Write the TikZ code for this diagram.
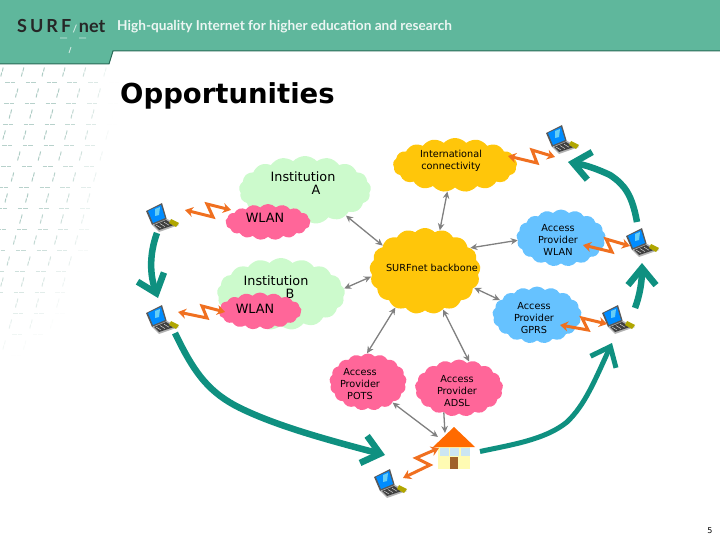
\documentclass[tikz,border=0pt]{standalone}
\usepackage{fontspec}
\setmainfont{DejaVu Sans}
\newfontfamily\headfont{Lato}
\usepackage{tikz}
\usetikzlibrary{arrows.meta,calc,shapes.symbols}
\definecolor{bandgreen}{HTML}{5FB79C}
\definecolor{banddark}{HTML}{2B6B58}
\definecolor{marksgreen}{HTML}{4A8C7C}
\definecolor{instgreen}{HTML}{CCFACC}
\definecolor{wlanpink}{HTML}{FF6699}
\definecolor{netyellow}{HTML}{FFC60A}
\definecolor{provblue}{HTML}{66C2FF}
\definecolor{boltorange}{HTML}{F07020}
\definecolor{roamteal}{HTML}{0F9080}
\definecolor{windowblue}{HTML}{CCE6F2}
\definecolor{roofred}{HTML}{FF6A00}
\definecolor{doorbrown}{HTML}{A0622A}
\tikzset{
  netcloud/.style={cloud,cloud puffs=17,cloud puff arc=95,inner sep=0pt,aspect=#1},
  cloudtext/.style={align=center,inner sep=0pt,font=\fontsize{9.7}{12}\selectfont},
  insttext/.style={align=center,inner sep=0pt,font=\fontsize{12.8}{13}\selectfont},
  link/.style={<->,draw=gray,line width=1.3pt},
  bolt/.style={{Stealth[length=8pt,width=10pt]}-{Stealth[length=8pt,width=10pt]},draw=boltorange,line width=3pt},
  roam/.style={draw=roamteal,line width=#1,-{Straight Barb[length=17pt,width=28pt]}},
  laptop/.style={minimum width=30pt,minimum height=27pt,inner sep=0pt},
  laptoppic/.pic={
    \fill[gray!70!black] (-16,-6) -- (0,-14) -- (5,3) -- (-10,8) -- cycle;
    \fill[blue!45!cyan] (-14,-6) -- (-1,-12) -- (3,1) -- (-9,6) -- cycle;
    \fill[cyan!60!white] (-7,-8) -- (-2,-10) -- (-3,-2) -- (-7,-1) -- cycle;
    \fill[gray!60] (-10,8) -- (5,2) -- (17,8) -- (-3,15) -- cycle;
    \fill[black!75] (-8,8) -- (4,3) -- (12,8) -- (-3,13) -- cycle;
    \fill[olive!70!yellow] (9,2) -- (17,6) -- (14,10) -- (7,6) -- cycle;
    \foreach \k in {0,1,2} {\draw[white!70!gray,line width=.5pt] ({-6+\k*4},{8-\k*1.4}) -- ({-1+\k*4},{11-\k*1.4});}
  }
}
\begin{document}
\begin{tikzpicture}[x=1pt,y=-1pt,>={Stealth[length=7pt,width=6.5pt]}]
\useasboundingbox (0,0) rectangle (720,540);
% header band
\fill[bandgreen] (0,0) -- (720,0) -- (720,51) -- (113,51) -- (109,64) -- (0,64) -- cycle;
\draw[banddark,line width=1pt] (0,64) -- (109,64) -- (113,51) -- (720,51);
\node[anchor=west,inner sep=0pt,text=black!85,font=\headfont\fontsize{18}{18}\selectfont\bfseries] (logo) at (17,26) {S\,U\,R\,F\hspace{1.5pt}{\color{white!75!bandgreen}\fontsize{10}{10}\selectfont/}\hspace{1.5pt}net};
\draw[white!70!bandgreen,line width=.8pt] (60,38) -- (67,38) (79,38) -- (86,38) (69,53) -- (71,47);
\node[anchor=west,inner sep=0pt,text=white!88!bandgreen,font=\headfont\fontsize{13.65}{14}\selectfont\bfseries] (tagline) at (117,27) {High-quality Internet for higher education and research};
% faded marks on the left
\foreach \r in {0,...,13} {\foreach \c in {0,...,5} {
  \pgfmathsetmacro{\py}{72+\r*21}
  \pgfmathsetmacro{\px}{mod(23-\r*6.3+126,21)+\c*20.6}
  \pgfmathsetmacro{\fade}{max(0,min(0.45,0.6*(1-(\px/115)^2-((\py-70)/290)^2)))}
  \draw[marksgreen,opacity=\fade,line width=1pt] ({\px-1.2},{\py+4.5}) -- ({\px-.3},{\py+.5}) ({\px+.3},{\py-.5}) -- ({\px+1.2},{\py-4.5});
  \pgfmathsetmacro{\qx}{mod(10-\r*1+42,21)+\c*20.8-(\r>4)*2}
  \pgfmathsetmacro{\fadeb}{max(0,min(0.4,0.55*(1-(\qx/115)^2-((\py+10-70)/290)^2)))}
  \draw[marksgreen,opacity=\fadeb,line width=.9pt] ({\qx-5},{\py+10}) -- ({\qx-.5},{\py+10}) ({\qx+.5},{\py+10}) -- ({\qx+5},{\py+10});
}}
% title
\node[anchor=west,inner sep=0pt,font=\fontsize{27.5}{28}\selectfont\bfseries] (title) at (120,96) {Opportunities};
% clouds
\node[netcloud=1.9,fill=instgreen,minimum width=132pt,minimum height=68pt] (insta) at (305,190) {};
\node[insttext] (instalabel) at (303,183) {Institution\\\hspace*{26pt}A};
\node[netcloud=2.3,fill=wlanpink,minimum width=85pt,minimum height=36pt] (wlana) at (268,222) {};
\node[insttext] (wlanalabel) at (265,218) {WLAN};
\node[netcloud=1.8,fill=instgreen,minimum width=128pt,minimum height=72pt] (instb) at (281,294) {};
\node[insttext] (instblabel) at (276,287) {Institution\\\hspace*{28pt}B};
\node[netcloud=2.2,fill=wlanpink,minimum width=83pt,minimum height=37pt] (wlanb) at (260,311) {};
\node[insttext] (wlanblabel) at (255,309) {WLAN};
\node[netcloud=2.3,fill=netyellow,minimum width=124pt,minimum height=54pt] (intl) at (455,165) {};
\node[cloudtext] (intllabel) at (451,161) {International\\connectivity};
\node[netcloud=1.3,fill=netyellow,minimum width=111pt,minimum height=86pt] (backbone) at (425,271) {};
\node[cloudtext] (backbonelabel) at (432,268) {SURFnet backbone};
\node[netcloud=1.6,fill=provblue,minimum width=89pt,minimum height=57pt] (provwlan) at (561,238) {};
\node[cloudtext] (provwlanlabel) at (558,240) {Access\\Provider\\WLAN};
\node[netcloud=1.6,fill=provblue,minimum width=89pt,minimum height=57pt] (provgprs) at (537,315) {};
\node[cloudtext] (provgprslabel) at (534,318) {Access\\Provider\\GPRS};
\node[netcloud=1.35,fill=wlanpink,minimum width=77pt,minimum height=57pt] (provpots) at (368,382) {};
\node[cloudtext] (provpotslabel) at (360,384) {Access\\Provider\\POTS};
\node[netcloud=1.55,fill=wlanpink,minimum width=88pt,minimum height=57pt] (provadsl) at (459,388) {};
\node[cloudtext] (provadsllabel) at (457,391) {Access\\Provider\\ADSL};
% house
\node[fill=yellow!30,minimum width=32pt,minimum height=22pt,inner sep=0pt] (house) at (454,457.5) {};
\fill[roofred] (433,447) -- (454,427) -- (475,447) -- cycle;
\foreach \wx in {439.5,450,460.5} {\fill[windowblue] (\wx,448) rectangle ({\wx+9},456);}
\fill[doorbrown] (450,457) rectangle (458,469);
\coordinate (roofleft) at (438,437);
\coordinate (roofpeak) at (445,433);
% laptops
\foreach \nm/\lx/\ly in {laptopa/162/217,laptopb/162/319,laptopc/562/139,laptopd/642/242,laptope/618/319,laptopf/390/483} {
  \node[laptop] (\nm) at (\lx,\ly) {};
  \pic at (\nm) {laptoppic};
}
% links
\draw[link] (insta.-32) -- (backbone.149);
\draw[link] (instb.5) -- (backbone.186);
\draw[link] (intl.254) -- (backbone.70);
\draw[link] (provwlan.183) -- (backbone.27);
\draw[link] (provgprs.158) -- (backbone.-19);
\draw[link] (provpots.92) -- (backbone.231);
\draw[link] (provadsl.69) -- (backbone.-65);
\draw[link] (provpots.-40) -- (roofleft);
\draw[->,draw=gray,line width=1.3pt] (provadsl.238) -- (roofpeak);
% radio links
\draw[bolt] ($(laptopa)+(23,-7)$) -- (213,217) -- (207,204) -- ($(wlana)+(-37,-12)$);
\draw[bolt] ($(laptopb)+(16,-7)$) -- (207,318) -- (202,306) -- ($(wlanb)+(-35,1)$);
\draw[bolt] ($(intl)+(53,-9)$) -- (537,163) -- (532,150) -- ($(laptopc)+(-7,18)$);
\draw[bolt] ($(provwlan)+(22,7)$) -- (612,252) -- (606,239) -- ($(laptopd)+(-12,4)$);
\draw[bolt] ($(provgprs)+(23,10)$) -- (588,330) -- (582,318) -- ($(laptope)+(-11,5)$);
\draw[bolt] ($(laptopf)+(13,-5)$) -- (430,465) -- (416,458) -- ($(house)+(-15,-9.5)$);
% roaming arrows
\draw[roam=6.5pt] ($(laptopa)+(-5,16)$) .. controls (149,255) and (150,275) .. ($(laptopb)+(-4,-21)$);
\draw[roam=6.5pt] ($(laptopb)+(13,14)$) .. controls (195,375) and (210,393) .. (240,408) .. controls (275,425) and (320,438) .. ($(laptopf)+(-5,-28)$);
\draw[roam=5pt] ($(house)+(26,-6)$) .. controls (510,445) and (545,440) .. (567,422) .. controls (585,405) and (595,380) .. ($(laptope)+(-6,24)$);
\draw[roam=6.5pt] ($(laptope)+(17,-11)$) .. controls (640,295) and (642,280) .. ($(laptopd)+(0,21)$);
\draw[roam=6.5pt] ($(laptopd)+(-5,-20)$) .. controls (632,195) and (625,185) .. (610,175) .. controls (595,168) and (585,165) .. ($(laptopc)+(6,23)$);
% page number
\node[inner sep=0pt,font=\fontsize{8}{8}\selectfont] (pagenum) at (710,531) {5};
\end{tikzpicture}
\end{document}
